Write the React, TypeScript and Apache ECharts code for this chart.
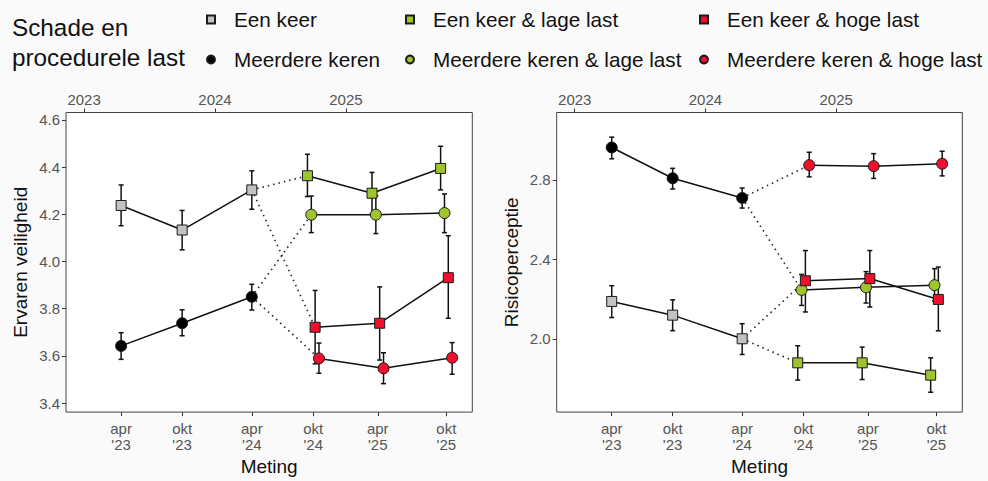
import React, { useEffect, useRef } from "react";
import * as echarts from "echarts";

// ---- data ----
const measurementDates = [2023.283, 2023.749, 2024.281, 2024.75, 2025.243, 2025.767];
const dateLabels = ["apr\n'23", "okt\n'23", "apr\n'24", "okt\n'24", "apr\n'25", "okt\n'25"];
const yearTicks = [2023, 2024, 2025];
const veiligheidTicks = [3.4, 3.6, 3.8, 4.0, 4.2, 4.4, 4.6];
const risicoTicks = [2.0, 2.4, 2.8];

const groupNames = [
  "Een keer",
  "Meerdere keren",
  "Een keer & lage last",
  "Meerdere keren & lage last",
  "Een keer & hoge last",
  "Meerdere keren & hoge last",
];

// Ervaren veiligheid (mean, lower, upper)
const veiligEenKeer = [4.237, 4.133, 4.303];
const veiligEenKeerLo = [4.151, 4.049, 4.221];
const veiligEenKeerHi = [4.324, 4.216, 4.384];
const veiligMeerdere = [3.642, 3.738, 3.85];
const veiligMeerdereLo = [3.585, 3.685, 3.794];
const veiligMeerdereHi = [3.698, 3.795, 3.903];
const veiligEenLaag = [4.363, 4.289, 4.394];
const veiligEenLaagLo = [4.275, 4.2, 4.303];
const veiligEenLaagHi = [4.454, 4.377, 4.488];
const veiligMeerLaag = [4.198, 4.198, 4.205];
const veiligMeerLaagLo = [4.122, 4.118, 4.122];
const veiligMeerLaagHi = [4.277, 4.278, 4.286];
const veiligEenHoog = [3.721, 3.738, 3.931];
const veiligEenHoogLo = [3.566, 3.582, 3.759];
const veiligEenHoogHi = [3.877, 3.892, 4.109];
const veiligMeerHoog = [3.589, 3.547, 3.592];
const veiligMeerHoogLo = [3.526, 3.482, 3.522];
const veiligMeerHoogHi = [3.654, 3.613, 3.656];

// Risicoperceptie (mean, lower, upper)
const risicoEenKeer = [2.188, 2.119, 2.0];
const risicoEenKeerLo = [2.107, 2.041, 1.921];
const risicoEenKeerHi = [2.267, 2.196, 2.076];
const risicoMeerdere = [2.963, 2.808, 2.709];
const risicoMeerdereLo = [2.906, 2.754, 2.658];
const risicoMeerdereHi = [3.015, 2.858, 2.759];
const risicoEenLaag = [1.879, 1.879, 1.817];
const risicoEenLaagLo = [1.792, 1.795, 1.731];
const risicoEenLaagHi = [1.965, 1.958, 1.904];
const risicoMeerLaag = [2.246, 2.259, 2.27];
const risicoMeerLaagLo = [2.168, 2.18, 2.19];
const risicoMeerLaagHi = [2.324, 2.338, 2.353];
const risicoEenHoog = [2.292, 2.303, 2.198];
const risicoEenHoogLo = [2.135, 2.16, 2.04];
const risicoEenHoogHi = [2.444, 2.444, 2.361];
const risicoMeerHoog = [2.874, 2.869, 2.881];
const risicoMeerHoogLo = [2.815, 2.807, 2.82];
const risicoMeerHoogHi = [2.939, 2.932, 2.944];

// ---- styling / layout ----
const FONT = "'Liberation Sans', Arial, Helvetica, sans-serif";
const GRAY = "#c2c2c2";
const GREEN = "#9ec52e";
const RED = "#f0102e";
const X_MIN = 2022.862;
const X_MAX = 2025.965;
const DODGE = [0, 0, -0.044, -0.0146, 0.0146, 0.044];
const SYMBOLS = ["rect", "circle", "rect", "circle", "rect", "circle"];
const FILLS = [GRAY, "#000000", GREEN, GREEN, RED, RED];
const PHASE = ["pre", "pre", "post", "post", "post", "post"];
const PARENT = [-1, -1, 0, 1, 0, 1];

type Panel = { mean: number[][]; lo: number[][]; hi: number[][] };

const veiligPanel: Panel = {
  mean: [veiligEenKeer, veiligMeerdere, veiligEenLaag, veiligMeerLaag, veiligEenHoog, veiligMeerHoog],
  lo: [veiligEenKeerLo, veiligMeerdereLo, veiligEenLaagLo, veiligMeerLaagLo, veiligEenHoogLo, veiligMeerHoogLo],
  hi: [veiligEenKeerHi, veiligMeerdereHi, veiligEenLaagHi, veiligMeerLaagHi, veiligEenHoogHi, veiligMeerHoogHi],
};
const risicoPanel: Panel = {
  mean: [risicoEenKeer, risicoMeerdere, risicoEenLaag, risicoMeerLaag, risicoEenHoog, risicoMeerHoog],
  lo: [risicoEenKeerLo, risicoMeerdereLo, risicoEenLaagLo, risicoMeerLaagLo, risicoEenHoogLo, risicoMeerHoogLo],
  hi: [risicoEenKeerHi, risicoMeerdereHi, risicoEenLaagHi, risicoMeerLaagHi, risicoEenHoogHi, risicoMeerHoogHi],
};

function xsFor(g: number): number[] {
  const dates = PHASE[g] === "pre" ? measurementDates.slice(0, 3) : measurementDates.slice(3, 6);
  return dates.map((d) => d + DODGE[g]);
}

function errorRender(params: any, api: any) {
  const x = api.value(0);
  const pLo = api.coord([x, api.value(1)]);
  const pHi = api.coord([x, api.value(2)]);
  const w = 2.5;
  const style = { stroke: "#111111", lineWidth: 1.5 };
  return {
    type: "group",
    children: [
      { type: "line", shape: { x1: pLo[0], y1: pLo[1], x2: pHi[0], y2: pHi[1] }, style },
      { type: "line", shape: { x1: pLo[0] - w, y1: pLo[1], x2: pLo[0] + w, y2: pLo[1] }, style },
      { type: "line", shape: { x1: pHi[0] - w, y1: pHi[1], x2: pHi[0] + w, y2: pHi[1] }, style },
    ],
  };
}

function panelSeries(panel: Panel, xAxisIndex: number, yAxisIndex: number, key: string) {
  const out: any[] = [];
  for (let g = 0; g < 6; g++) {
    const xs = xsFor(g);
    const pts = xs.map((x, i) => [x, panel.mean[g][i]]);
    if (PARENT[g] >= 0) {
      const p = PARENT[g];
      const pxs = xsFor(p);
      out.push({
        type: "line",
        name: key + "-conn-" + g,
        xAxisIndex,
        yAxisIndex,
        silent: true,
        symbol: "none",
        z: 1,
        lineStyle: { color: "#2a2a2a", width: 1.7, type: [1.5, 4] },
        data: [[pxs[2], panel.mean[p][2]], pts[0]],
      });
    }
    out.push({
      type: "custom",
      name: key + "-err-" + g,
      xAxisIndex,
      yAxisIndex,
      silent: true,
      z: 2,
      renderItem: errorRender,
      encode: { x: 0, y: [1, 2] },
      data: xs.map((x, i) => [x, panel.lo[g][i], panel.hi[g][i]]),
    });
    out.push({
      type: "line",
      name: key + "-line-" + g,
      xAxisIndex,
      yAxisIndex,
      silent: true,
      symbol: "none",
      z: 3,
      lineStyle: { color: "#111111", width: 1.5 },
      data: pts,
    });
    out.push({
      type: "scatter",
      name: groupNames[g],
      xAxisIndex,
      yAxisIndex,
      z: 4,
      symbol: SYMBOLS[g],
      symbolSize: SYMBOLS[g] === "rect" ? 10 : 11,
      itemStyle: { color: FILLS[g], borderColor: "#1a1a1a", borderWidth: 1, opacity: 1 },
      data: pts,
    });
  }
  return out;
}

function labelFor(v: number): string {
  let best = 0;
  for (let i = 1; i < measurementDates.length; i++) {
    if (Math.abs(measurementDates[i] - v) < Math.abs(measurementDates[best] - v)) best = i;
  }
  return dateLabels[best];
}

const tickLabelStyle = { color: "#555555", fontSize: 15, fontFamily: FONT };
const axisTick = { show: true, length: 4, lineStyle: { color: "#333333", width: 1 } };

function bottomAxis(gridIndex: number) {
  return {
    type: "value",
    gridIndex,
    position: "bottom",
    min: X_MIN,
    max: X_MAX,
    name: "Meting",
    nameLocation: "middle",
    nameGap: 44,
    nameTextStyle: { fontSize: 19, color: "#111111", fontFamily: FONT },
    axisLine: { show: false },
    splitLine: { show: false },
    axisTick: { ...axisTick, customValues: measurementDates },
    axisLabel: {
      ...tickLabelStyle,
      customValues: measurementDates,
      margin: 8,
      lineHeight: 16,
      formatter: (v: number) => labelFor(v),
    },
  };
}
function topAxis(gridIndex: number) {
  return {
    type: "value",
    gridIndex,
    position: "top",
    min: X_MIN,
    max: X_MAX,
    axisLine: { show: false },
    splitLine: { show: false },
    axisTick: { ...axisTick, customValues: yearTicks },
    axisLabel: { ...tickLabelStyle, customValues: yearTicks, margin: 6, formatter: (v: number) => String(Math.round(v)) },
  };
}
function yAxis(gridIndex: number, name: string, min: number, max: number, ticks: number[]) {
  return {
    type: "value",
    gridIndex,
    min,
    max,
    name,
    nameLocation: "middle",
    nameGap: 36,
    nameTextStyle: { fontSize: 19, color: "#111111", fontFamily: FONT },
    axisLine: { show: false },
    splitLine: { show: false },
    axisTick: { ...axisTick, customValues: ticks },
    axisLabel: { ...tickLabelStyle, customValues: ticks, margin: 6, formatter: (v: number) => v.toFixed(1) },
  };
}

function legendCol(left: number, names: string[]) {
  return {
    orient: "vertical",
    left,
    top: 9,
    padding: 0,
    itemWidth: 8,
    itemHeight: 8,
    itemGap: 19,
    selectedMode: false,
    textStyle: { fontSize: 20.7, color: "#111111", fontFamily: FONT, lineHeight: 21, padding: [0, 0, 0, 14] },
    data: names.map((n, i) => ({ name: n, icon: i === 0 ? "rect" : "circle" })),
  };
}

export default function App() {
  const ref = useRef<HTMLDivElement>(null);
  useEffect(() => {
    if (!ref.current) return;
    const chart = echarts.init(ref.current, undefined, { renderer: "svg" });
    const gridCommon = {
      show: true,
      backgroundColor: "#ffffff",
      borderColor: "#444444",
      borderWidth: 1,
      top: 112.5,
      height: 303.5,
      containLabel: false,
    };
    chart.setOption({
      animation: false,
      backgroundColor: "#fafafa",
      textStyle: { fontFamily: FONT },
      title: {
        text: "Schade en\nprocedurele last",
        left: 12,
        top: 12,
        padding: 0,
        textStyle: { fontSize: 24.3, fontWeight: "normal", lineHeight: 30, color: "#111111", fontFamily: FONT },
      },
      legend: [
        legendCol(206, [groupNames[0], groupNames[1]]),
        legendCol(405, [groupNames[2], groupNames[3]]),
        legendCol(699, [groupNames[4], groupNames[5]]),
      ],
      grid: [
        { ...gridCommon, left: 66, width: 406.3 },
        { ...gridCommon, left: 556.7, width: 405.6 },
      ],
      xAxis: [bottomAxis(0), topAxis(0), bottomAxis(1), topAxis(1)],
      yAxis: [
        yAxis(0, "Ervaren veiligheid", 3.3615, 4.631, veiligheidTicks),
        yAxis(1, "Risicoperceptie", 1.631, 3.139, risicoTicks),
      ],
      series: [
        ...panelSeries(veiligPanel, 0, 0, "v"),
        ...panelSeries(risicoPanel, 2, 1, "r"),
      ],
    });
    return () => chart.dispose();
  }, []);
  return (
    <div
      ref={ref}
      style={{ position: "fixed", left: 0, top: 0, width: 988, height: 481 }}
    />
  );
}
